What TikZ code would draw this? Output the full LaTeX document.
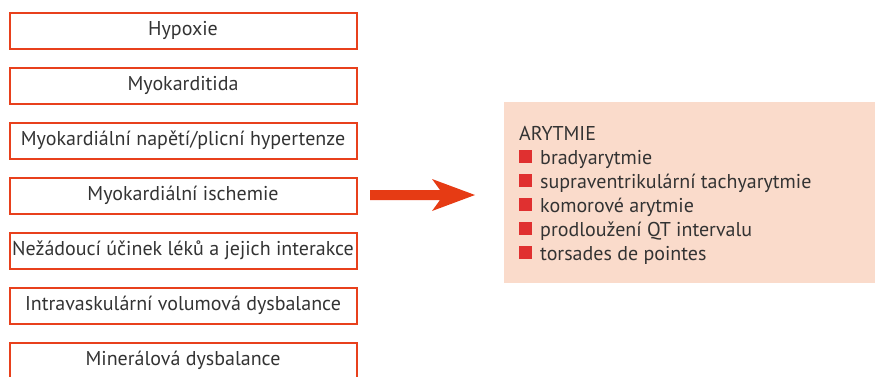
\documentclass[tikz,border=0pt]{standalone}
\usepackage{fontspec}
\setmainfont{PT Sans}
\usepackage{xcolor}
\definecolor{boxred}{HTML}{E8401C}
\definecolor{arrred}{HTML}{E63B14}
\definecolor{pinkbg}{HTML}{FADBCB}
\definecolor{bulred}{HTML}{E03030}
\definecolor{txt}{HTML}{333333}
\begin{document}
\begin{tikzpicture}[x=1pt,y=-1pt,
  cause/.style={draw=boxred,line width=2pt,minimum width=347pt,minimum height=36pt,
    inner sep=0pt,text=txt,font=\fontsize{20}{22}\selectfont}]
\useasboundingbox (0,0) rectangle (875,376);
\foreach \t [count=\i] in {Hypoxie,Myokarditida,Myokardiální napětí/plicní hypertenze,Myokardiální ischemie,Nežádoucí účinek léků a jejich interakce,Intravaskulární volumová dysbalance,Minerálová dysbalance}{
  \node[cause] (c\i) at (183,{30.5+55*(\i-1)}) {\t};
}
\node[fill=pinkbg,minimum width=372pt,minimum height=181pt,anchor=north west,inner sep=0pt] (res) at (504,102) {};
\newcommand{\bsq}{\textcolor{bulred}{\rule[1pt]{13pt}{13pt}}\hspace{8pt}}
\node[anchor=north west,align=left,text=txt,inner sep=0pt,font=\fontsize{20}{24}\selectfont] (lst) at (519,126)
 {ARYTMIE\\ \bsq bradyarytmie\\ \bsq supraventrikulární tachyarytmie\\ \bsq komorové arytmie\\ \bsq prodloužení QT intervalu\\ \bsq torsades de pointes};
\coordinate (tip) at (475,195);
\fill[arrred] (370,190) -- (440,190) -- (432,179) -- (tip) -- (432,211) -- (440,200) -- (370,200) -- cycle;
\end{tikzpicture}
\end{document}
